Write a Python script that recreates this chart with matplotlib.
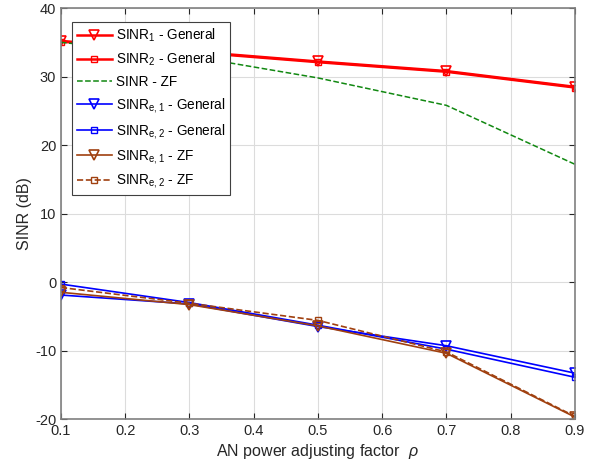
import matplotlib
matplotlib.use('Agg')
import matplotlib.pyplot as plt
import numpy as np

plt.rcParams['font.family'] = ['Liberation Sans', 'DejaVu Sans']
plt.rcParams['mathtext.fontset'] = 'custom'
plt.rcParams['mathtext.rm'] = 'Liberation Sans'
plt.rcParams['mathtext.it'] = 'Liberation Sans:italic'
plt.rcParams['axes.unicode_minus'] = False

rho = [0.1, 0.3, 0.5, 0.7, 0.9]
sinr1_gen = [35.2, 33.7, 32.2, 30.8, 28.5]
sinr2_gen = [35.1, 33.6, 32.1, 30.7, 28.4]
sinr_zf = [35.0, 33.0, 29.8, 25.8, 17.2]
sinre1_gen = [-1.9, -3.2, -6.5, -9.3, -13.3]
sinre2_gen = [-0.3, -3.0, -6.3, -9.8, -13.9]
sinre1_zf = [-1.5, -3.3, -6.4, -10.4, -19.7]
sinre2_zf = [-0.8, -3.1, -5.6, -10.2, -19.6]

fig = plt.figure(figsize=(5.95, 4.74), dpi=100)
ax = fig.add_axes([0.1025, 0.116, 0.8635, 0.867])

brown = '#a0400f'
ax.plot(rho, sinr1_gen, '-v', color='red', lw=1.8, ms=7, mfc='none', mew=1.2, label=r'SINR$_1$ - General')
ax.plot(rho, sinr2_gen, '-s', color='red', lw=1.8, ms=5, mfc='none', mew=1.0, label=r'SINR$_2$ - General')
ax.plot(rho, sinr_zf, '--', color='#118811', lw=1.1, label='SINR - ZF')
ax.plot(rho, sinre1_gen, '-v', color='blue', lw=1.2, ms=7, mfc='none', mew=1.2, label=r'SINR$_{\mathrm{e,1}}$ - General')
ax.plot(rho, sinre2_gen, '-s', color='blue', lw=1.2, ms=5, mfc='none', mew=1.0, label=r'SINR$_{\mathrm{e,2}}$ - General')
ax.plot(rho, sinre1_zf, '-v', color=brown, lw=1.2, ms=7, mfc='none', mew=1.2, label=r'SINR$_{\mathrm{e,1}}$ - ZF')
ax.plot(rho, sinre2_zf, '--s', color=brown, lw=1.2, ms=5, mfc='none', mew=1.0, label=r'SINR$_{\mathrm{e,2}}$ - ZF')

ax.set_xlim(0.1, 0.9)
ax.set_ylim(-20, 40)
ax.set_xticks(np.arange(0.1, 0.91, 0.1))
ax.set_xticklabels(['0.1', '0.2', '0.3', '0.4', '0.5', '0.6', '0.7', '0.8', '0.9'])
ax.set_yticks(np.arange(-20, 41, 10))
ax.tick_params(direction='in', top=True, right=True, labelsize=10.5, colors='#262626', length=4)
ax.grid(True, color='#dcdcdc', lw=0.8)
ax.set_axisbelow(True)
for s in ax.spines.values():
    s.set_color('#808080')
    s.set_linewidth(1.2)

ax.set_xlabel(r'AN power adjusting factor  $\it{\rho}$', fontsize=11.5, color='#262626', labelpad=3)
ax.set_ylabel('SINR (dB)', fontsize=11.5, color='#262626', labelpad=2)

leg = ax.legend(loc='upper left', bbox_to_anchor=(0.021, 0.966), fontsize=9.8, fancybox=False,
                framealpha=1, edgecolor='#404040', handlelength=2.6, handletextpad=0.3,
                labelspacing=0.5, borderpad=0.35, borderaxespad=0)
leg.get_frame().set_linewidth(0.8)

fig.savefig('out.png', dpi=100)
